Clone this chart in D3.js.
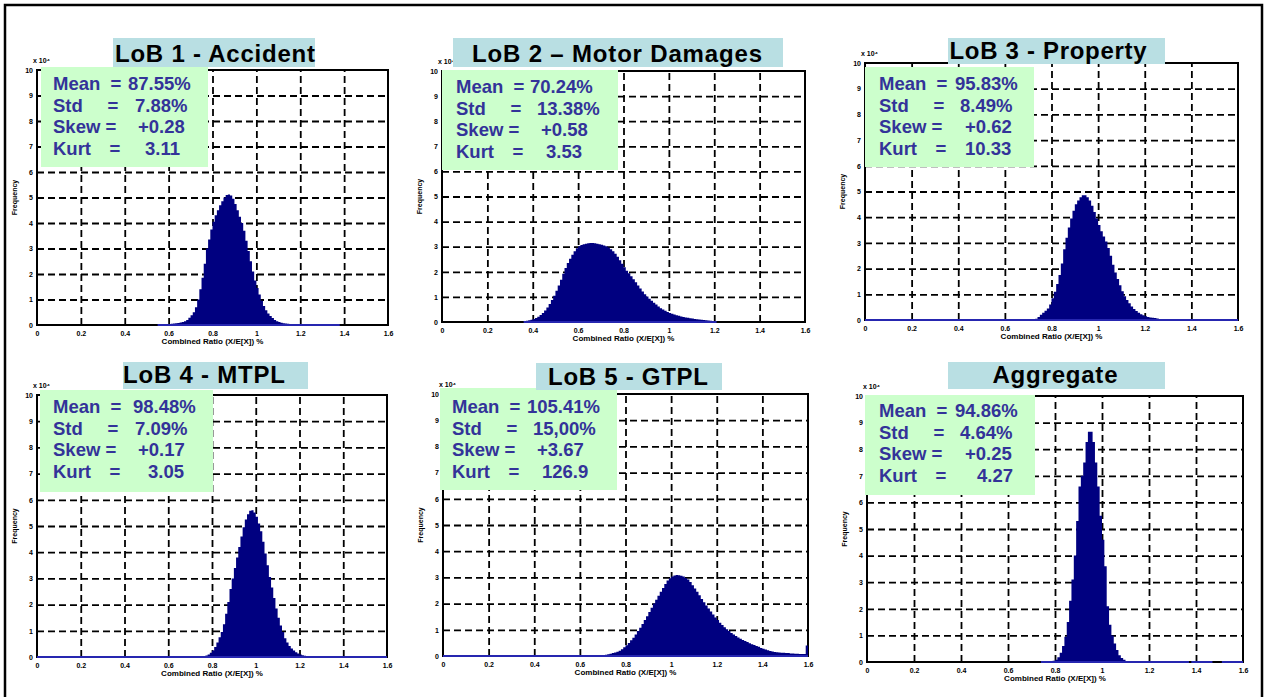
<!DOCTYPE html>
<html>
<head>
<meta charset="utf-8">
<script src="https://cdn.jsdelivr.net/npm/d3@7"></script>
<style>
  body { margin: 0; background: #fff; }
  svg { display: block; }
  text { font-family: "Liberation Sans", Arial, sans-serif; }
</style>
</head>
<body>
<script>
// histogram bins are 0.01 wide, values in units of 10^4
var binWidth = 0.01;

var lob1Start = 0.55;
var lob1Freq = [0.02,0.02,0.02,0.03,0.03,0.04,0.05,0.06,0.07,0.08,
  0.10,0.12,0.15,0.20,0.28,0.38,0.50,0.70,1.00,1.40,
  1.85,2.40,3.00,3.35,3.75,4.05,4.30,4.50,4.70,4.85,
  5.00,5.10,5.12,5.08,4.95,4.75,4.50,4.25,4.00,3.70,
  3.30,2.90,2.50,2.10,1.75,1.45,1.20,0.95,0.75,0.58,
  0.45,0.35,0.27,0.20,0.15,0.12,0.09,0.07,0.06,0.05,
  0.04,0.04,0.03,0.03,0.03,0.03,0.02,0.02,0.02,0.02,
  0.02,0.01,0.01,0.01,0.01,0.01,0.01,0.01,0.01,0.01,0.01];

var lob2Start = 0.36;
var lob2Freq = [0.03,0.05,0.07,0.09,0.12,0.16,0.21,0.28,0.36,0.46,
  0.58,0.72,0.88,1.05,1.25,1.45,1.68,1.92,2.15,2.35,
  2.52,2.68,2.82,2.94,3.02,3.07,3.10,3.12,3.14,3.15,
  3.15,3.14,3.12,3.10,3.08,3.05,3.02,2.97,2.90,2.82,
  2.72,2.60,2.46,2.32,2.18,2.04,1.94,1.82,1.70,1.58,
  1.45,1.33,1.22,1.11,1.02,0.93,0.85,0.77,0.70,0.62,
  0.55,0.50,0.45,0.40,0.36,0.33,0.30,0.27,0.25,0.22,
  0.20,0.18,0.17,0.15,0.14,0.12,0.11,0.10,0.09,0.08,
  0.07,0.06,0.05,0.04,0.03];

var lob3Start = 0.73;
var lob3Freq = [0.05,0.12,0.20,0.28,0.36,0.45,0.60,0.85,1.10,1.40,
  1.75,2.20,2.75,3.20,3.60,3.95,4.25,4.50,4.65,4.78,
  4.85,4.85,4.78,4.65,4.45,4.20,3.95,3.70,3.45,3.25,
  3.05,2.80,2.50,2.15,1.85,1.60,1.35,1.12,0.92,0.78,
  0.65,0.53,0.43,0.35,0.28,0.22,0.18,0.15,0.12,0.10,
  0.09,0.08,0.06];

var lob4Start = 0.76;
var lob4Freq = [0.03,0.06,0.10,0.16,0.25,0.38,0.55,0.75,0.95,1.25,
  1.65,2.10,2.60,3.00,3.40,3.80,4.20,4.60,4.95,5.25,
  5.45,5.58,5.60,5.52,5.35,5.10,4.80,4.40,3.95,3.50,
  3.05,2.65,2.25,1.85,1.50,1.20,0.95,0.72,0.55,0.42,
  0.32,0.25,0.18,0.13,0.10,0.07,0.05,0.04,0.02];

var lob5Start = 0.70;
var lob5Freq = [0.03,0.05,0.07,0.09,0.11,0.13,0.16,0.20,0.26,0.33,
  0.41,0.50,0.60,0.70,0.82,0.95,1.08,1.22,1.37,1.52,
  1.68,1.84,2.00,2.15,2.30,2.45,2.60,2.75,2.88,2.97,
  3.03,3.07,3.09,3.08,3.06,3.03,2.98,2.92,2.82,2.70,
  2.58,2.45,2.32,2.18,2.05,1.93,1.81,1.70,1.58,1.47,
  1.37,1.27,1.18,1.10,1.02,0.95,0.88,0.82,0.76,0.71,
  0.66,0.61,0.57,0.53,0.49,0.45,0.42,0.38,0.35,0.31,
  0.28,0.25,0.22,0.19,0.17,0.15,0.14,0.13,0.12,0.12,
  0.11,0.11,0.10,0.10,0.09,0.09,0.08,0.08,0.08,0.40];

var aggStart = 0.74;
var aggFreq = [0.02,0.02,0.03,0.03,0.04,0.05,0.08,0.18,0.35,0.60,
  0.95,1.50,2.30,3.10,4.00,5.30,6.60,7.00,7.50,8.27,
  8.66,8.66,8.27,7.50,6.60,5.50,4.60,3.60,2.10,1.40,
  1.00,0.70,0.45,0.25,0.15,0.08,0.03];

// stretches of the zero line drawn by the histogram
var lob1Span = [[0.55, 1.38]];
var lob2Span = [[0.36, 1.21]];
var lob3Span = [[0, 1.6]];
var lob4Span = [[0, 1.6]];
var lob5Span = [[0, 1.6]];
var aggSpan = [[0.74, 1.37], [1.38, 1.47], [1.51, 1.6]];

var titles = ["LoB 1 - Accident", "LoB 2 \u2013 Motor Damages", "LoB 3 - Property",
  "LoB 4 - MTPL", "LoB 5 - GTPL", "Aggregate"];
var meanLabels = ["87.55%", "70.24%", "95.83%", "98.48%", "105.41%", "94.86%"];
var stdLabels = ["7.88%", "13.38%", "8.49%", "7.09%", "15,00%", "4.64%"];
var skewLabels = ["+0.28", "+0.58", "+0.62", "+0.17", "+3.67", "+0.25"];
var kurtLabels = ["3.11", "3.53", "10.33", "3.05", "126.9", "4.27"];
var statNames = ["Mean", "Std", "Skew", "Kurt"];

var xTicks = [0, 0.2, 0.4, 0.6, 0.8, 1, 1.2, 1.4, 1.6];
var yTicks = [0, 1, 2, 3, 4, 5, 6, 7, 8, 9, 10];

var starts = [lob1Start, lob2Start, lob3Start, lob4Start, lob5Start, aggStart];
var freqs = [lob1Freq, lob2Freq, lob3Freq, lob4Freq, lob5Freq, aggFreq];
var spans = [lob1Span, lob2Span, lob3Span, lob4Span, lob5Span, aggSpan];

// page layout for each panel
var layout = [
  {px: [37, 388], py: [70, 325], tb: [113, 38, 202, 29], tc: 215, tbase: 62, tlen: 200, sb: [41, 67, 167, 100], sx: 53, sbase: 90, vo: [75, 82, 85, 92]},
  {px: [442, 805], py: [71, 322], tb: [453, 38, 330, 29], tc: 617, tbase: 62, tlen: 290, sb: [442, 70, 176, 100], sx: 456, sbase: 93, vo: [74, 81, 85, 90]},
  {px: [865, 1238], py: [63, 320], tb: [948, 38, 217, 26], tc: 1048, tbase: 59, tlen: 197, sb: [865, 67, 169, 100], sx: 879, sbase: 90, vo: [76, 81, 86, 86]},
  {px: [37, 387], py: [395, 657], tb: [123, 362, 185, 27], tc: 204, tbase: 383, tlen: 162, sb: [40, 390, 173, 102], sx: 53, sbase: 413, vo: [80, 82, 85, 95]},
  {px: [443, 808], py: [394, 656], tb: [536, 363, 186, 27], tc: 628, tbase: 385, tlen: 160, sb: [440, 388, 177, 102], sx: 452, sbase: 413, vo: [75, 81, 85, 90]},
  {px: [867, 1243], py: [396, 662], tb: [948, 362, 217, 27], tc: 1055, tbase: 383, tlen: 125, sb: [865, 395, 170, 100], sx: 879, sbase: 417, vo: [76, 81, 86, 98]}
];
var eqOffsets = [63, 60, 58, 62];

var w = 1267,
    h = 697;
var svg = d3.select('body').append('svg').attr("width", w).attr("height", h);

// outer frame
svg.append("rect")
  .attr("x", 5).attr("y", 5)
  .attr("width", 1257).attr("height", 700)
  .attr("fill", "none")
  .attr("stroke", "#000")
  .attr("stroke-width", 2.5);

layout.forEach(function(L, k) {
  var x = d3.scaleLinear().domain([0, 1.6]).range(L.px);
  var y = d3.scaleLinear().domain([0, 10]).range([L.py[1], L.py[0]]);
  var g = svg.append("g");
  var pw = L.px[1] - L.px[0],
      ph = L.py[1] - L.py[0];

  // dashed grid
  g.append("g").attr("transform", "translate(0," + L.py[1] + ")")
    .call(d3.axisBottom(x).tickValues(xTicks.slice(1, -1)).tickSize(-ph).tickFormat(""))
    .call(function(a) { a.select(".domain").remove(); })
    .selectAll("line").attr("stroke", "#000").attr("stroke-width", 1.8).attr("stroke-dasharray", "7,4");
  g.append("g").attr("transform", "translate(" + L.px[0] + ",0)")
    .call(d3.axisLeft(y).tickValues(yTicks.slice(1, -1)).tickSize(-pw).tickFormat(""))
    .call(function(a) { a.select(".domain").remove(); })
    .selectAll("line").attr("stroke", "#000").attr("stroke-width", 1.8).attr("stroke-dasharray", "7,4");

  // tick labels
  var xa = g.append("g").attr("transform", "translate(0," + L.py[1] + ")")
    .call(d3.axisBottom(x).tickValues(xTicks).tickSize(0).tickPadding(6).tickFormat(d3.format("~g")));
  xa.select(".domain").remove();
  var ya = g.append("g").attr("transform", "translate(" + L.px[0] + ",0)")
    .call(d3.axisLeft(y).tickValues(yTicks).tickSize(0).tickPadding(4));
  ya.select(".domain").remove();
  g.selectAll(".tick text").attr("font-size", 7).attr("font-weight", "bold")
    .attr("font-family", "'Liberation Sans', Arial, sans-serif").attr("fill", "#000");

  // axes box
  g.append("rect")
    .attr("x", L.px[0]).attr("y", L.py[0])
    .attr("width", pw).attr("height", ph)
    .attr("fill", "none").attr("stroke", "#000").attr("stroke-width", 2);

  // histogram
  var pts = freqs[k].map(function(v, i) { return [starts[k] + i * binWidth, v]; });
  pts.push([starts[k] + freqs[k].length * binWidth, freqs[k][freqs[k].length - 1]]);
  var area = d3.area()
    .x(function(d) { return x(d[0]); })
    .y0(y(0))
    .y1(function(d) { return y(d[1]); })
    .curve(d3.curveStepAfter);
  g.append("path").datum(pts).attr("d", area).attr("fill", "#000080");

  g.selectAll(".zero").data(spans[k]).enter().append("line")
    .attr("x1", function(d) { return x(d[0]); })
    .attr("x2", function(d) { return x(d[1]); })
    .attr("y1", y(0)).attr("y2", y(0))
    .attr("stroke", "#2626b0").attr("stroke-width", 2);

  // axis captions
  g.append("text")
    .attr("x", L.px[0] - 4).attr("y", L.py[0] - 7)
    .attr("font-size", 7).attr("font-weight", "bold")
    .text("x 10\u2074");
  g.append("text")
    .attr("transform", "translate(" + (L.px[0] - 20) + "," + ((L.py[0] + L.py[1]) / 2) + ") rotate(-90)")
    .attr("text-anchor", "middle")
    .attr("font-size", 7).attr("font-weight", "bold")
    .text("Frequency");
  g.append("text")
    .attr("x", (L.px[0] + L.px[1]) / 2).attr("y", L.py[1] + 19)
    .attr("text-anchor", "middle")
    .attr("font-size", 8).attr("font-weight", "bold")
    .text("Combined Ratio (X/E[X]) %");

  // stats box
  g.append("rect")
    .attr("x", L.sb[0]).attr("y", L.sb[1])
    .attr("width", L.sb[2]).attr("height", L.sb[3])
    .attr("fill", "#ccffcc");
  var vals = [meanLabels[k], stdLabels[k], skewLabels[k], kurtLabels[k]];
  statNames.forEach(function(name, i) {
    var by = L.sbase + i * 21.7;
    var t = g.append("g").attr("fill", "#333399").attr("font-size", 18.5).attr("font-weight", "bold");
    t.append("text").attr("x", L.sx).attr("y", by).text(name);
    t.append("text").attr("x", L.sx + eqOffsets[i]).attr("y", by).attr("text-anchor", "middle").text("=");
    t.append("text").attr("x", L.sx + L.vo[i]).attr("y", by).text(vals[i]);
  });

  // title
  g.append("rect")
    .attr("x", L.tb[0]).attr("y", L.tb[1])
    .attr("width", L.tb[2]).attr("height", L.tb[3])
    .attr("fill", "#b9dfe3");
  g.append("text")
    .attr("x", L.tc).attr("y", L.tbase)
    .attr("text-anchor", "middle")
    .attr("font-size", 24).attr("font-weight", "bold")
    .attr("textLength", L.tlen).attr("lengthAdjust", "spacing")
    .text(titles[k]);
});
</script>
</body>
</html>
